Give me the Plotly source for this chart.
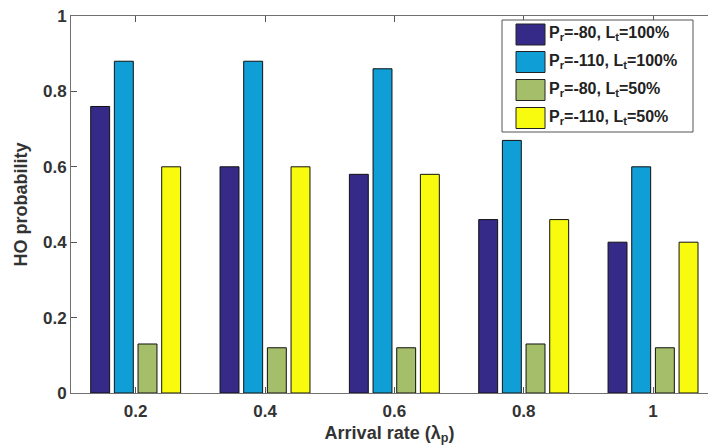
import plotly.graph_objects as go

arrival_rate = [0.2, 0.4, 0.6, 0.8, 1.0]
series_names = [
    "P<sub>r</sub>=-80, L<sub>t</sub>=100%",
    "P<sub>r</sub>=-110, L<sub>t</sub>=100%",
    "P<sub>r</sub>=-80, L<sub>t</sub>=50%",
    "P<sub>r</sub>=-110, L<sub>t</sub>=50%",
]
pr80_lt100 = [0.76, 0.60, 0.58, 0.46, 0.40]
pr110_lt100 = [0.88, 0.88, 0.86, 0.67, 0.60]
pr80_lt50 = [0.13, 0.12, 0.12, 0.13, 0.12]
pr110_lt50 = [0.60, 0.60, 0.58, 0.46, 0.40]
y_ticks = [0, 0.2, 0.4, 0.6, 0.8, 1]
x_ticks = [0.2, 0.4, 0.6, 0.8, 1]
x_tick_labels = ["0.2", "0.4", "0.6", "0.8", "1"]

colors = ["#352A87", "#0F9ED6", "#A5BE6A", "#F9FB0E"]
series = [pr80_lt100, pr110_lt100, pr80_lt50, pr110_lt50]

W, H = 708, 447
L, R, T, B = 71, 0, 16, 54
font = "Liberation Sans, Arial, sans-serif"

fig = go.Figure()
for name, vals, c in zip(series_names, series, colors):
    fig.add_trace(go.Bar(x=arrival_rate, y=vals, name=name, marker_color=c,
                         marker_line_color="#111111", marker_line_width=1,
                         showlegend=False, hoverinfo="skip"))

def px_x(p):
    return (p - L) / (W - L - R)

def px_y(p):
    return 1 - (p - T) / (H - T - B)

shapes = []
annotations = []
# legend box
shapes.append(dict(type="rect", xref="paper", yref="paper",
                   x0=px_x(502), x1=px_x(693), y0=px_y(20), y1=px_y(132),
                   line=dict(color="#555555", width=1), fillcolor="white", layer="above"))
row_centers = [34.5, 62, 90, 118]
for name, c, yc in zip(series_names, colors, row_centers):
    shapes.append(dict(type="rect", xref="paper", yref="paper",
                       x0=px_x(516), x1=px_x(545), y0=px_y(yc - 10.5), y1=px_y(yc + 10.5),
                       line=dict(color="#222222", width=1), fillcolor=c, layer="above"))
    annotations.append(dict(xref="paper", yref="paper", x=px_x(547), y=px_y(yc - 1),
                            text="<b>" + name + "</b>", showarrow=False,
                            xanchor="left", yanchor="middle",
                            font=dict(family=font, size=16, color="#222222")))

fig.update_layout(
    width=W, height=H,
    margin=dict(l=L, r=R, t=T, b=B, pad=0),
    paper_bgcolor="white", plot_bgcolor="white",
    barmode="group", bargap=0.268, bargroupgap=0.2,
    shapes=shapes, annotations=annotations,
    font=dict(family=font, size=17, color="#333333"),
)
fig.update_xaxes(range=[0.1, 1.085], tickvals=x_ticks, ticktext=["<b>%s</b>" % t for t in x_tick_labels],
                 ticks="inside", ticklen=6, tickcolor="#555555", automargin=False,
                 showline=True, linecolor="#707070", linewidth=1, mirror="ticks",
                 showgrid=False, zeroline=False, ticklabelstandoff=3,
                 tickfont=dict(family=font, size=17, color="#333333"),
                 title=dict(text="<b>Arrival rate (λ<sub>p</sub>)</b>", standoff=5,
                            font=dict(family=font, size=18, color="#333333")))
fig.update_yaxes(range=[0, 1], tickvals=y_ticks, ticktext=["<b>%g</b>" % v for v in y_ticks],
                 ticks="inside", ticklen=6, tickcolor="#555555", automargin=False,
                 showline=True, linecolor="#707070", linewidth=1, mirror=False,
                 showgrid=False, zeroline=False,
                 tickfont=dict(family=font, size=17, color="#333333"),
                 title=dict(text="<b>HO probability</b>", standoff=10,
                            font=dict(family=font, size=18, color="#333333")))

fig.write_html("out.html", config={"displayModeBar": False},
               post_script="document.body.style.margin='0';document.body.style.overflow='hidden';")
